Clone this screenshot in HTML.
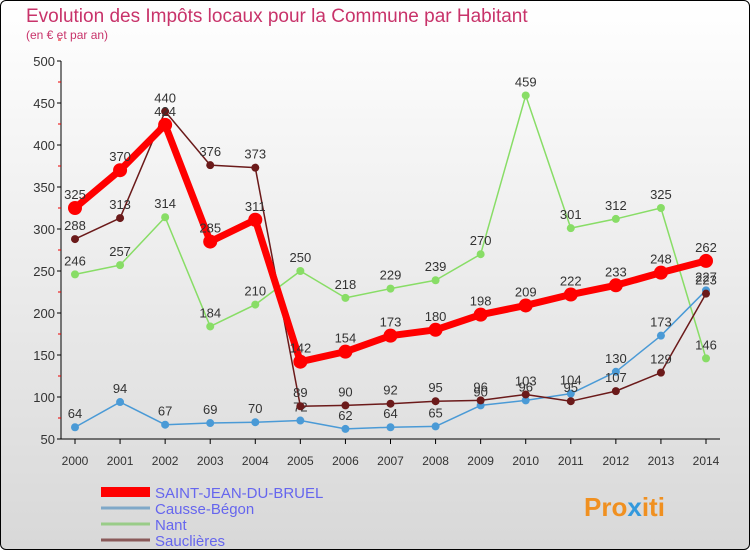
<!DOCTYPE html>
<html><head><meta charset="utf-8"><style>
html,body{margin:0;padding:0}
body{width:750px;height:550px;overflow:hidden;font-family:"Liberation Sans",sans-serif}
#wrap{position:absolute;left:0;top:0;width:748px;height:548px;border:1px solid #000;border-radius:6px;background:linear-gradient(#fff,#d8d8d8);overflow:hidden}
</style></head><body>
<div id="wrap">
<svg id="chart" width="750" height="550" style="position:absolute;left:-1px;top:-1px">
<text x="26" y="22" font-size="19" fill="#c8336a">Evolution des Impôts locaux pour la Commune par Habitant</text>
<text x="26" y="39" font-size="12" fill="#c8336a">(en € et par an)</text>
<g id="axes"></g><g id="series"></g>
<g font-size="15">
<line x1="101" y1="492" x2="150" y2="492" stroke="#f00" stroke-width="10"/><text x="155" y="498" fill="#6666ee">SAINT-JEAN-DU-BRUEL</text>
<line x1="101" y1="508" x2="150" y2="508" stroke="#7fa8c8" stroke-width="3"/><text x="155" y="514" fill="#6666ee">Causse-Bégon</text>
<line x1="101" y1="524" x2="150" y2="524" stroke="#99cc88" stroke-width="3"/><text x="155" y="530" fill="#6666ee">Nant</text>
<line x1="101" y1="540" x2="150" y2="540" stroke="#8a5a5a" stroke-width="3"/><text x="155" y="546" fill="#6666ee">Sauclières</text>
</g>
<text x="584" y="516" font-size="26" font-weight="bold" fill="#f09020">Pro<tspan fill="#3399dd">x</tspan>iti</text>
</svg>
</div>
<script>
const years=[2000,2001,2002,2003,2004,2005,2006,2007,2008,2009,2010,2011,2012,2013,2014];
const yTicks=[50,100,150,200,250,300,350,400,450,500];
const saintJean=[325,370,424,285,311,142,154,173,180,198,209,222,233,248,262];
const causse=[64,94,67,69,70,72,62,64,65,90,96,104,130,173,227];
const nant=[246,257,314,184,210,250,218,229,239,270,459,301,312,325,146];
const saulc=[288,313,440,376,373,89,90,92,95,96,103,95,107,129,223];
const NS="http://www.w3.org/2000/svg";
const xs=i=>75+i*(706-75)/14;
const ys=v=>439-(v-50)*(378/450);
function mk(t,a,p){const e=document.createElementNS(NS,t);for(const k in a)e.setAttribute(k,a[k]);p.appendChild(e);return e;}
const ax=document.getElementById('axes');
const yl=mk('line',{x1:61,y1:61,x2:61,y2:439,stroke:'#000'},ax);


yTicks.forEach(v=>{
 mk('line',{x1:57,x2:61,y1:ys(v),y2:ys(v),stroke:'#000'},ax);
 mk('line',{x1:58,x2:61,y1:ys(v+25),y2:ys(v+25),stroke:'#e00'},ax);
 const t=mk('text',{x:55,y:ys(v)+5,'text-anchor':'end','font-size':13,fill:'#333'},ax);
 t.textContent=v;
 
 
});
const xl=mk('line',{x1:61,y1:439,x2:720,y2:439,stroke:'#000'},ax);


years.forEach((y,i)=>{
 mk('line',{x1:xs(i),x2:xs(i),y1:439,y2:444,stroke:'#000'},ax);
 const t=mk('text',{x:xs(i),y:465,'text-anchor':'middle','font-size':12,fill:'#333'},ax);
 t.textContent=y;
 
 
});
const sg=document.getElementById('series');
function draw(vals,color,w,r,name){
 const g=mk('g',{},sg);
 
 
 mk('polyline',{points:vals.map((v,i)=>xs(i)+','+ys(v)).join(' '),fill:'none',stroke:color,'stroke-width':w,'stroke-linejoin':'round'},g);
 vals.forEach((v,i)=>{
  const c=mk('circle',{cx:xs(i),cy:ys(v),r:r,fill:color},g);
  
  
  const t=mk('text',{x:xs(i),y:ys(v)-9,'text-anchor':'middle','font-size':13,fill:'#333'},g);
  t.textContent=v;
  
  
 });
}
draw(nant,'#88dd66',1.5,4,'nant-series');
draw(causse,'#4a9ad6',1.5,4,'causse-begon-series');
draw(saulc,'#6b1a1a',1.5,4,'saulcieres-series');
draw(saintJean,'#f00',7,7,'saint-jean-series');
</script>
</body></html>
